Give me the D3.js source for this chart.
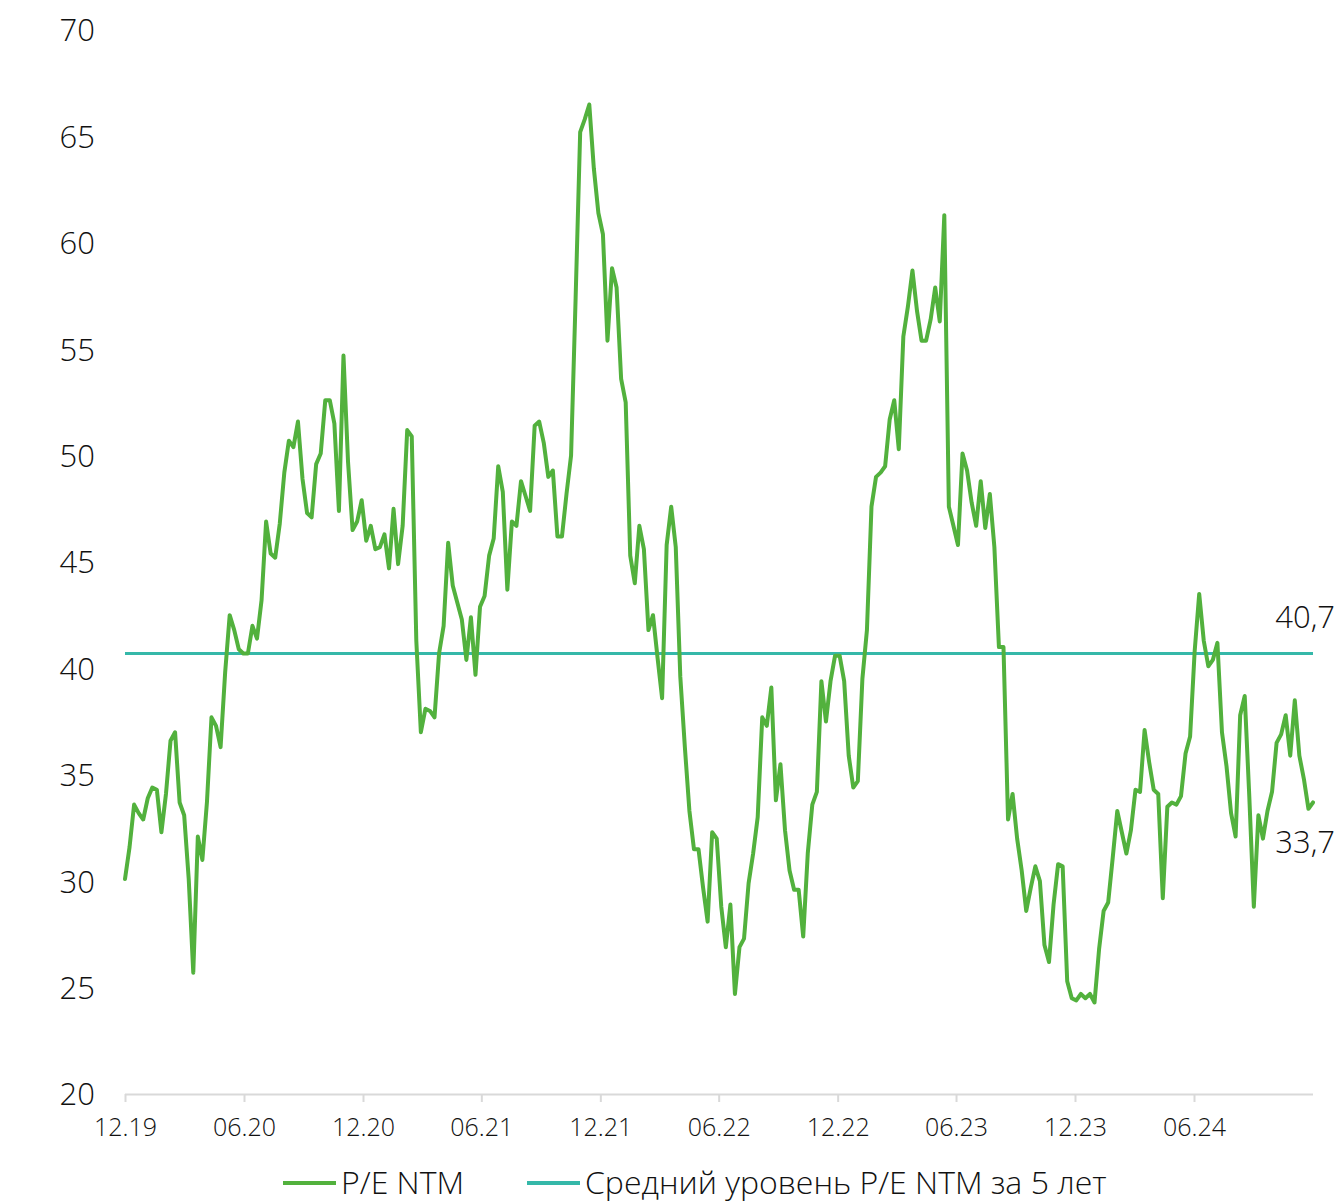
<!DOCTYPE html>
<html lang="ru">
<head>
<meta charset="utf-8">
<script src="https://cdn.jsdelivr.net/npm/d3@7"></script>
<style>
  html, body { margin: 0; padding: 0; background: #ffffff; }
  svg text { font-family: "Open Sans", "Noto Sans", sans-serif; font-weight: 300; fill: #111111; }
</style>
</head>
<body>
<svg id="chart" width="1342" height="1204"></svg>
<script>
// Weekly P/E NTM observations, first week of December 2019 onward
const startDate = "2019-12-01";
const peValues = [
  30.1, 31.6, 33.6, 33.2, 32.9, 33.9, 34.4, 34.3, 32.3, 34.1,
  36.6, 37.0, 33.7, 33.1, 30.1, 25.7, 32.1, 31.0, 33.7, 37.7,
  37.3, 36.3, 39.8, 42.5, 41.8, 40.9, 40.7, 40.7, 42.0, 41.4,
  43.2, 46.9, 45.4, 45.2, 46.8, 49.2, 50.7, 50.4, 51.6, 48.9,
  47.3, 47.1, 49.6, 50.1, 52.6, 52.6, 51.5, 47.4, 54.7, 49.7,
  46.5, 46.9, 47.9, 46.0, 46.7, 45.6, 45.7, 46.3, 44.7, 47.5,
  44.9, 46.7, 51.2, 50.9, 41.3, 37.0, 38.1, 38.0, 37.7, 40.7,
  42.0, 45.9, 43.9, 43.1, 42.3, 40.4, 42.4, 39.7, 42.9, 43.4,
  45.3, 46.1, 49.5, 48.3, 43.7, 46.9, 46.7, 48.8, 48.1, 47.4,
  51.4, 51.6, 50.6, 49.0, 49.3, 46.2, 46.2, 48.2, 50.0, 57.4,
  65.2, 65.8, 66.5, 63.5, 61.4, 60.4, 55.4, 58.8, 57.9, 53.6,
  52.5, 45.3, 44.0, 46.7, 45.6, 41.8, 42.5, 40.5, 38.6, 45.8,
  47.6, 45.7, 39.6, 36.3, 33.3, 31.5, 31.5, 29.7, 28.1, 32.3,
  32.0, 28.8, 26.9, 28.9, 24.7, 26.9, 27.3, 29.9, 31.3, 33.0,
  37.7, 37.3, 39.1, 33.8, 35.5, 32.4, 30.5, 29.6, 29.6, 27.4,
  31.3, 33.6, 34.2, 39.4, 37.5, 39.4, 40.6, 40.6, 39.4, 35.9,
  34.4, 34.7, 39.5, 41.8, 47.6, 49.0, 49.2, 49.5, 51.7, 52.6,
  50.3, 55.6, 57.0, 58.7, 56.8, 55.4, 55.4, 56.4, 57.9, 56.3,
  61.3, 47.6, 46.7, 45.8, 50.1, 49.3, 47.8, 46.7, 48.8, 46.6,
  48.2, 45.7, 41.0, 41.0, 32.9, 34.1, 32.0, 30.5, 28.6, 29.7,
  30.7, 30.0, 27.0, 26.2, 28.9, 30.8, 30.7, 25.3, 24.5, 24.4,
  24.7, 24.5, 24.7, 24.3, 26.8, 28.6, 29.0, 31.1, 33.3, 32.3,
  31.3, 32.4, 34.3, 34.2, 37.1, 35.6, 34.3, 34.1, 29.2, 33.5,
  33.7, 33.6, 34.0, 36.0, 36.8, 40.8, 43.5, 41.3, 40.1, 40.4,
  41.2, 37.0, 35.4, 33.2, 32.1, 37.8, 38.7, 34.0, 28.8, 33.1,
  32.0, 33.3, 34.2, 36.5, 36.9, 37.8, 35.9, 38.5, 35.9, 34.8,
  33.4, 33.7
];
const averageValue = 40.7;

const xTickLabels = ["12.19", "06.20", "12.20", "06.21", "12.21", "06.22", "12.22", "06.23", "12.23", "06.24"];
const yTickValues = [20, 25, 30, 35, 40, 45, 50, 55, 60, 65, 70];
const seriesNames = ["P/E NTM", "Средний уровень P/E NTM за 5 лет"];
const seriesColors = ["#52b13d", "#35b8a9"];

// Build dated records
const parseDay = d3.timeParse("%Y-%m-%d");
const t0 = parseDay(startDate);
const peData = peValues.map((v, i) => ({ date: d3.timeWeek.offset(t0, i), value: v }));
const lastDate = peData[peData.length - 1].date;

const svg = d3.select("#chart");
const plot = { left: 125, right: 1313, top: 30, bottom: 1094 };

const x = d3.scaleTime().domain([t0, lastDate]).range([plot.left, plot.right]);
const y = d3.scaleLinear().domain([20, 70]).range([plot.bottom, plot.top]);

// Y axis labels (no axis line)
const yAxis = d3.axisLeft(y).tickValues(yTickValues).tickSize(0).tickPadding(0)
  .tickFormat(d3.format("d"));
const yG = svg.append("g").attr("transform", `translate(95,0)`).call(yAxis);
yG.select(".domain").remove();
yG.selectAll("text")
  .attr("font-size", 31)
  .attr("dy", "0.35em")
  .style("font-family", "'Open Sans', sans-serif")
  .style("font-weight", 300)
  .attr("fill", "#111");

// X axis with tick marks
const parseTick = d3.timeParse("%m.%y");
const xTickDates = xTickLabels.map(parseTick);
const xAxis = d3.axisBottom(x).tickValues(xTickDates).tickSize(8).tickPadding(16)
  .tickFormat((d, i) => xTickLabels[i]);
const xG = svg.append("g").attr("transform", `translate(0,${plot.bottom})`).call(xAxis);
xG.select(".domain").attr("d", `M${plot.left},0.5H${plot.right}`)
  .attr("stroke", "#d9d9d9").attr("stroke-width", 2);
xG.selectAll(".tick line").attr("stroke", "#d9d9d9").attr("stroke-width", 2);
xG.selectAll(".tick text")
  .attr("font-size", 25)
  .style("font-family", "'Open Sans', sans-serif")
  .style("font-weight", 300)
  .attr("fill", "#111");

// Five-year average level
svg.append("line")
  .attr("x1", x(t0)).attr("x2", x(lastDate))
  .attr("y1", y(averageValue)).attr("y2", y(averageValue))
  .attr("stroke", seriesColors[1]).attr("stroke-width", 3);

// P/E NTM line
const line = d3.line().x(d => x(d.date)).y(d => y(d.value));
svg.append("path")
  .datum(peData)
  .attr("d", line)
  .attr("fill", "none")
  .attr("stroke", seriesColors[0])
  .attr("stroke-width", 4)
  .attr("stroke-linejoin", "round")
  .attr("stroke-linecap", "round");

// End-value labels
const fmtComma = v => d3.format(".1f")(v).replace(".", ",");
svg.append("text")
  .attr("x", 1335).attr("y", y(averageValue) - 36)
  .attr("dy", "0.35em").attr("text-anchor", "end")
  .attr("font-size", 31)
  .text(fmtComma(averageValue));
svg.append("text")
  .attr("x", 1335).attr("y", y(peValues[peValues.length - 1]) + 40)
  .attr("dy", "0.35em").attr("text-anchor", "end")
  .attr("font-size", 31)
  .text(fmtComma(peValues[peValues.length - 1]));

// Legend
const legendItems = [
  { name: seriesNames[0], color: seriesColors[0], x: 283 },
  { name: seriesNames[1], color: seriesColors[1], x: 527 }
];
const lg = svg.append("g").attr("transform", "translate(0,1183)");
legendItems.forEach(item => {
  lg.append("line")
    .attr("x1", item.x).attr("x2", item.x + 53)
    .attr("y1", 0).attr("y2", 0)
    .attr("stroke", item.color).attr("stroke-width", 4);
  lg.append("text")
    .attr("x", item.x + 58).attr("y", 0).attr("dy", "0.35em")
    .attr("font-size", 32)
    .text(item.name);
});
</script>
</body>
</html>
